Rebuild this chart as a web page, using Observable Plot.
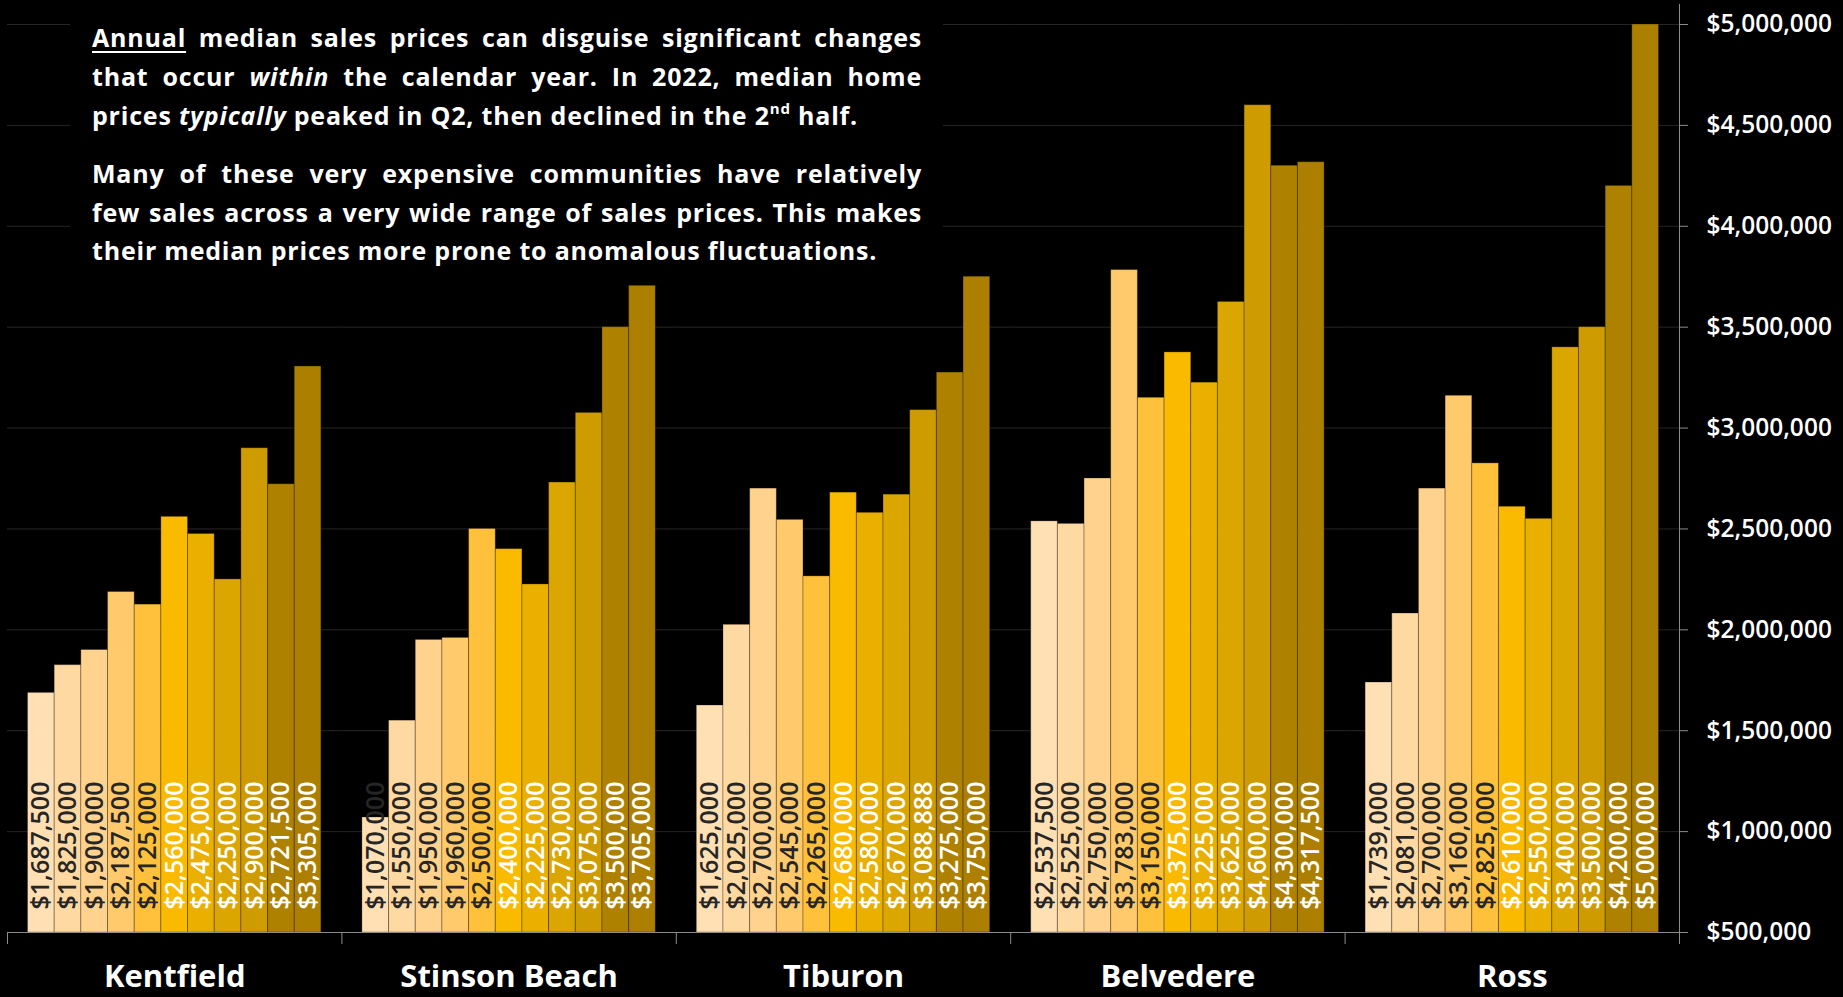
<!DOCTYPE html>
<html>
<head>
<meta charset="utf-8">
<script src="https://cdn.jsdelivr.net/npm/d3@7"></script>
<script src="https://cdn.jsdelivr.net/npm/@observablehq/plot@0.6"></script>
<style>
  html, body { margin: 0; padding: 0; background: #000; }
  #wrap { position: relative; width: 1843px; height: 997px; overflow: hidden; background: #000; }
  #note {
    position: absolute; left: 70px; top: 0; width: 830px;
    padding: 18.4px 21px 8px 22px; background: #000; color: #fff;
    font: 700 25px "Open Sans", sans-serif; line-height: 38.7px; letter-spacing: 0.8px;
  }
  #note .j { text-align: justify; text-align-last: justify; white-space: nowrap; }
  #note .l { text-align: left; white-space: nowrap; }
  #note .p2 { margin-top: 19.5px; }
  #note u { text-decoration-thickness: 2px; text-underline-offset: 4px; }
  #note sup { font-size: 0.6em; line-height: 0; vertical-align: 0.75em; }
</style>
</head>
<body>
<div id="wrap">
  <div id="chart"></div>
  <div id="note">
    <div class="j"><u>Annual</u> median sales prices can disguise significant changes</div>
    <div class="j">that occur <i>within</i> the calendar year. In 2022, median home</div>
    <div class="l">prices <i>typically</i> peaked in Q2, then declined in the 2<sup>nd</sup> half.</div>
    <div class="j p2">Many of these very expensive communities have relatively</div>
    <div class="j">few sales across a very wide range of sales prices. This makes</div>
    <div class="l">their median prices more prone to anomalous fluctuations.</div>
  </div>
</div>
<script>
// Median sales prices by community, eleven consecutive periods each
const towns = ["Kentfield", "Stinson Beach", "Tiburon", "Belvedere", "Ross"];
const periods = ["P1", "P2", "P3", "P4", "P5", "P6", "P7", "P8", "P9", "P10", "P11"];

const kentfield    = [1687500, 1825000, 1900000, 2187500, 2125000, 2560000, 2475000, 2250000, 2900000, 2721500, 3305000];
const stinsonBeach = [1070000, 1550000, 1950000, 1960000, 2500000, 2400000, 2225000, 2730000, 3075000, 3500000, 3705000];
const tiburon      = [1625000, 2025000, 2700000, 2545000, 2265000, 2680000, 2580000, 2670000, 3088888, 3275000, 3750000];
const belvedere    = [2537500, 2525000, 2750000, 3783000, 3150000, 3375000, 3225000, 3625000, 4600000, 4300000, 4317500];
const ross         = [1739000, 2081000, 2700000, 3160000, 2825000, 2610000, 2550000, 3400000, 3500000, 4200000, 5000000];

// Value axis ticks
const yTicks = [500000, 1000000, 1500000, 2000000, 2500000, 3000000, 3500000, 4000000, 4500000, 5000000];

// Styling
const barColors = ["#FFE0B4", "#FFD9A2", "#FFD38E", "#FFCA6C", "#FFC03C", "#F9BA00", "#EAB000", "#DCA600", "#CE9B00", "#AE8100", "#AC7F00"];
const darkLabelPeriods = periods.slice(0, 5);
const gridColor = "#262626";
const axisColor = "#8c8c8c";
const font = "'Open Sans', sans-serif";

const prices = [kentfield, stinsonBeach, tiburon, belvedere, ross];
const rows = towns.flatMap((town, i) => periods.map((period, j) => ({town, period, price: prices[i][j]})));

const yMin = yTicks[0];
const yMax = yTicks[yTicks.length - 1];
const fmt = d3.format("$,");

// Layout
const W = 1843, H = 997;
const margin = {top: 24, right: 164, bottom: 65, left: 7};
const townPadInner = 0.1226;
const townPadOuter = townPadInner / 2;
const townStep = (W - margin.left - margin.right) / towns.length;
const gapHalf = townStep * townPadInner / 2;
const barStep = townStep * (1 - townPadInner) / periods.length;

const labelStyle = {
  fx: "town", x: "period", y: yMin,
  text: d => fmt(d.price),
  rotate: -90, textAnchor: "start", lineAnchor: "middle", dy: -23,
  fontSize: 25, fontWeight: 600
};

const chart = Plot.plot({
  width: W, height: H,
  marginTop: margin.top, marginRight: margin.right, marginBottom: margin.bottom, marginLeft: margin.left,
  facetMarginTop: 0, facetMarginBottom: 0, facetMarginLeft: 0, facetMarginRight: 0,
  style: {background: "#000", color: "#fff", fontFamily: font, overflow: "visible"},
  fx: {domain: towns, paddingInner: townPadInner, paddingOuter: townPadOuter, round: false, axis: null, label: null},
  x: {domain: periods, padding: 0, round: false, axis: null, label: null},
  y: {domain: [yMin, yMax], axis: null, label: null},
  color: {domain: periods, range: barColors},
  marks: [
    Plot.gridY(yTicks, {stroke: gridColor, strokeOpacity: 1, insetLeft: -gapHalf, insetRight: -gapHalf}),
    Plot.barY(rows, {
      fx: "town", x: "period", y1: yMin, y2: "price",
      fill: "period", stroke: "#000", strokeOpacity: 0.28, strokeWidth: 1, inset: 0
    }),
    Plot.text(rows, {...labelStyle, filter: d => darkLabelPeriods.includes(d.period), fill: "#262626"}),
    Plot.text(rows, {...labelStyle, filter: d => !darkLabelPeriods.includes(d.period), fill: "#ffffff"}),
    // category axis: baseline, group separators and community names
    Plot.ruleY([yMin], {stroke: axisColor, insetLeft: -gapHalf, insetRight: -gapHalf}),
    Plot.axisFx({anchor: "bottom", tickSize: 12, stroke: axisColor, fill: "none", dx: -townStep / 2, label: null}),
    Plot.axisFx({anchor: "bottom", tickSize: 0, tickPadding: 32, fill: "#fff", fontSize: 31, fontWeight: 700, label: null}),
    // value axis on the right
    Plot.ruleX([periods[periods.length - 1]], {
      fx: () => towns[towns.length - 1], dx: barStep / 2 + gapHalf,
      insetTop: -20, insetBottom: -12, stroke: axisColor
    }),
    Plot.axisY(yTicks, {
      anchor: "right", tickSize: 8, tickPadding: 19, dx: gapHalf,
      stroke: axisColor, fill: "#fff", tickFormat: fmt, fontSize: 24.5, fontWeight: 600, label: null
    })
  ]
});

document.getElementById("chart").appendChild(chart);
</script>
</body>
</html>
